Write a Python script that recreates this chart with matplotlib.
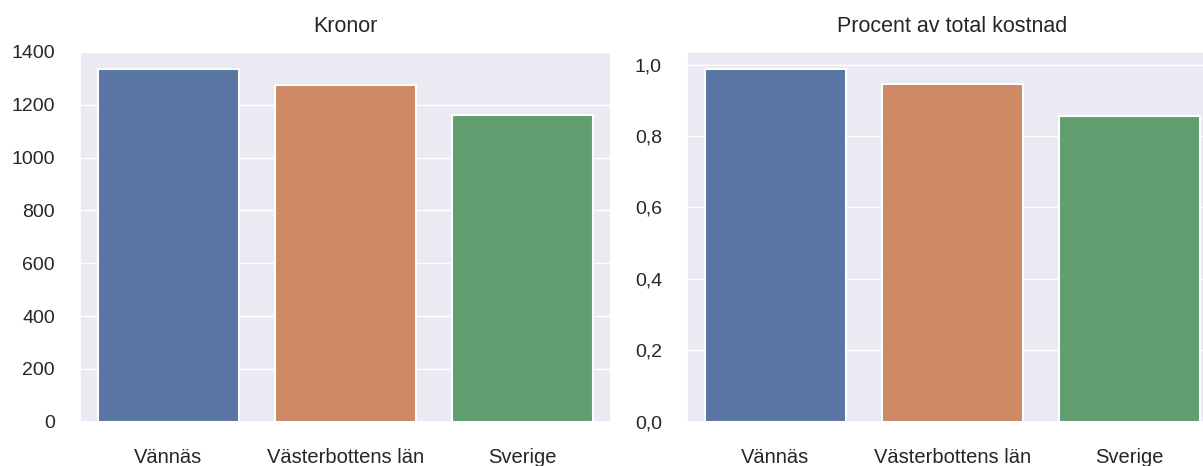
import matplotlib
matplotlib.use('Agg')

import matplotlib.pyplot as plt
import seaborn as sns
from matplotlib.ticker import FuncFormatter, MultipleLocator

sns.set_theme(style="darkgrid")
plt.rcParams['font.family'] = ['Liberation Sans', 'DejaVu Sans']

omraden = ["Vännäs", "Västerbottens län", "Sverige"]
kronor = [1334, 1274, 1160]
andel = [0.987, 0.947, 0.855]
farger = ["#5975a4", "#cc8963", "#5f9e6e"]

fig = plt.figure(figsize=(12.03, 4.66), dpi=100)
ax1 = fig.add_axes([0.0665, 0.0951, 0.4414, 0.794])
ax2 = fig.add_axes([0.571, 0.0951, 0.4414, 0.794])

for ax, varden, titel in [(ax1, kronor, "Kronor"), (ax2, andel, "Procent av total kostnad")]:
    x = range(len(omraden))
    ax.bar(x, varden, width=0.8, color=farger, edgecolor="white", linewidth=1.5)
    ax.set_xticks(list(x))
    ax.set_xticklabels(omraden)
    ax.set_xlim(-0.5, len(omraden) - 0.5)
    ax.set_ylim(0, max(varden) * 1.05)
    ax.xaxis.grid(False)
    ax.set_title(titel, fontsize=15.5, pad=14, color="#262626")
    ax.tick_params(axis="y", labelsize=14, pad=18, length=0, colors="#262626")
    ax.tick_params(axis="x", labelsize=14.5, pad=19, length=0, colors="#262626")

ax1.yaxis.set_major_locator(MultipleLocator(200))
ax2.yaxis.set_major_locator(MultipleLocator(0.2))
ax2.yaxis.set_major_formatter(FuncFormatter(lambda v, p: f"{v:.1f}".replace(".", ",")))

plt.savefig("out.png", dpi=100)
